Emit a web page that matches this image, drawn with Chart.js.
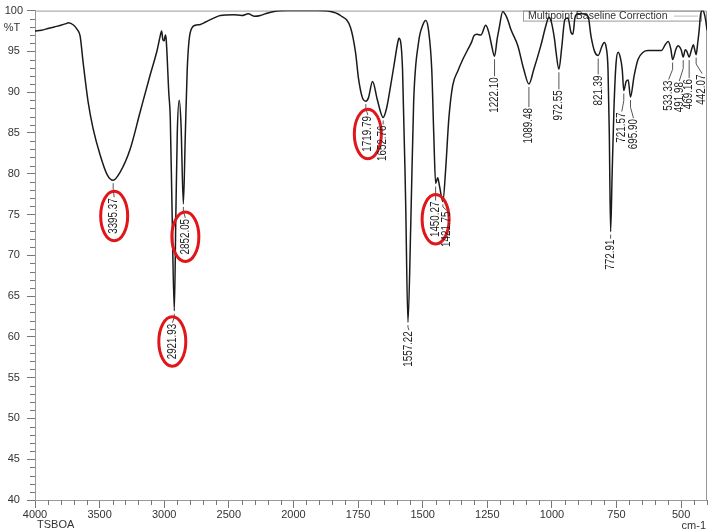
<!DOCTYPE html>
<html lang="en">
<head>
<meta charset="UTF-8">
<title>FTIR Spectrum</title>
<script src="https://cdn.jsdelivr.net/npm/chart.js"></script>
<style>
  body { margin: 0; background: #fff; }
</style>
</head>
<body>
<canvas id="irChart" width="709" height="530"></canvas>
<script>
// spectrum (cm-1 / %T)
const wavenumbers = [4000,3950,3900,3850,3800,3760,3744,3700,3674,3651,3628,3589,3550,3496,3442,3395,3341,3264,3186,3109,3054,3031,3020,3010,3000,2992,2985,2965,2953,2940,2922,2910,2899,2884,2870,2852,2837,2822,2799,2760,2721,2680,2643,2600,2566,2465,2400,2350,2300,2256,2220,2150,2047,1907,1857,1818,1779,1760,1748,1733,1720,1710,1694,1675,1653,1640,1624,1610,1597,1592,1578,1566,1557,1546,1535,1516,1500,1488,1477,1465,1457,1450,1442,1435,1422,1411,1399,1384,1364,1345,1326,1310,1302,1290,1275,1256,1244,1235,1222,1212,1205,1190,1180,1170,1159,1132,1109,1089,1070,1043,1023,1012,1004,990,984,973,962,950,938,926,919,911,900,880,860,849,835,821,808,798,790,783,778,773,767,760,752,744,735,728,722,713,705,696,682,667,647,628,600,577,560,550,540,533,520,512,500,492,484,478,469,460,453,446,442,436,430,425,418,412,405,400];
const transmittance = [97.5,97.6,97.8,98.0,98.2,98.4,98.5,98.2,97.7,96.9,93.7,88.8,85.5,82.3,79.9,79.2,80.2,83.0,87.6,92.1,95.2,96.9,97.5,96.4,96.3,97.0,96.5,90.0,86.7,76.0,63.2,75.0,85.0,89.0,86.0,76.3,84.7,92.8,97.3,98.2,98.3,98.6,98.9,99.2,99.4,99.5,99.4,99.6,99.3,99.4,99.6,99.9,100,100,99.9,99.4,97.9,94.9,91.6,89.3,88.9,89.3,91.3,89.0,86.9,88.0,90.8,93.5,96.0,96.6,92.8,76.6,61.8,74.0,88.8,96.1,98.2,98.8,97.5,92.8,84.7,78.8,79.5,78.5,76.6,80.6,86.7,90.8,92.6,94.0,95.2,96.2,96.9,97.1,97.0,98.2,97.3,96.0,94.4,96.5,97.7,99.9,99.5,98.8,97.7,95.7,92.8,91.0,92.8,95.7,98.2,99.2,98.8,96.5,94.9,92.8,95.5,98.9,99.1,97.3,97.1,99.1,99.6,99.6,99.3,96.9,95.0,94.5,95.5,96.1,95.5,92.8,85.0,72.9,80.0,88.0,93.5,94.9,94.2,92.8,90.2,91.3,91.5,89.4,92.0,94.0,94.9,95.1,95.1,95.1,95.9,96.2,95.3,94.0,95.3,95.7,95.2,94.3,95.2,95.0,94.3,95.2,95.8,95.0,94.6,96.0,97.7,99.5,100,99.8,98.8,97.6];

// picked peaks
const peakWavenumbers = [3395, 2922, 2852, 1720, 1653, 1557, 1450, 1422, 1222, 1089, 973, 821, 773, 722, 696, 533, 492, 469, 442];
const peakLabels = ['3395.37', '2921.93', '2852.05', '1719.79', '1652.76', '1557.22', '1450.27', '1421.75', '1222.10', '1089.48', '972.55', '821.39', '772.91', '721.57', '695.90', '533.33', '491.98', '469.16', '442.07'];
const circledPeaks = ['3395.37', '2921.93', '2852.05', '1719.79', '1450.27'];

const xTickValues = [4000, 3500, 3000, 2500, 2000, 1750, 1500, 1250, 1000, 750, 500];
const yTickValues = [40, 45, 50, 55, 60, 65, 70, 75, 80, 85, 90, 95, 100];

// axis is compressed by 2 above 2000 cm-1
function toAxis(w) { return w >= 2000 ? 4000 - w : 2000 + 2 * (2000 - w); }
function fromAxis(u) { return u <= 2000 ? 4000 - u : 2000 - (u - 2000) / 2; }

function valueAt(w) {
    for (let i = 0; i < wavenumbers.length - 1; i++) {
        const a = wavenumbers[i], b = wavenumbers[i + 1];
        if (w <= a && w >= b) {
            const t = (a - w) / (a - b);
            return transmittance[i] + t * (transmittance[i + 1] - transmittance[i]);
        }
    }
    return null;
}

const points = wavenumbers.map((w, i) => ({ x: toAxis(w), y: transmittance[i] }));

// label placement: [dx, distance below the peak]
const labelOffsets = [[1, 18], [-2, 13], [2, 15], [2, 15], [0, 8], [1, 9], [0, 18], [4, 10], [0, 21], [0, 24], [0, 21], [0, 20], [0, 8], [-2, 22], [3, 22], [-4, 21], [-4, 25], [0, 22], [6, 20]];

const tickFont = { family: 'Liberation Sans, Arial, sans-serif', size: 11 };

const spectrumDecor = {
    id: 'spectrumDecor',
    beforeDatasetsDraw(chart) {
        const ctx = chart.ctx;
        const a = chart.chartArea;
        ctx.save();
        // frame top and right
        ctx.strokeStyle = '#999';
        ctx.lineWidth = 1;
        ctx.beginPath();
        ctx.moveTo(a.left, a.top + 0.5);
        ctx.lineTo(a.right - 0.5, a.top + 0.5);
        ctx.lineTo(a.right - 0.5, a.bottom);
        ctx.stroke();
        // legend box
        ctx.strokeStyle = '#999';
        ctx.strokeRect(523.5, a.top + 0.5, 178, 10);
        ctx.fillStyle = '#333';
        ctx.font = '10.5px Liberation Sans, Arial, sans-serif';
        ctx.textBaseline = 'middle';
        ctx.textAlign = 'left';
        ctx.fillText(chart.data.datasets[0].label, 528, a.top + 6);
        ctx.strokeStyle = '#bbb';
        ctx.beginPath();
        ctx.moveTo(674, a.top + 5.5);
        ctx.lineTo(698, a.top + 5.5);
        ctx.stroke();
        ctx.restore();
    },
    afterDraw(chart) {
        const ctx = chart.ctx;
        const xs = chart.scales.x, ys = chart.scales.y;
        const a = chart.chartArea;
        ctx.save();
        // minor ticks
        ctx.strokeStyle = '#777';
        ctx.lineWidth = 1;
        ctx.beginPath();
        for (let w = 4000; w >= 400; w -= (w > 2000 ? 100 : 50)) {
            if (xTickValues.includes(w)) continue;
            const px = Math.round(xs.getPixelForValue(toAxis(w))) + 0.5;
            ctx.moveTo(px, a.bottom);
            ctx.lineTo(px, a.bottom + 5);
        }
        for (let v = 40; v <= 100; v++) {
            if (v % 5 === 0) continue;
            const py = Math.round(ys.getPixelForValue(v)) + 0.5;
            ctx.moveTo(a.left, py);
            ctx.lineTo(a.left - 5, py);
        }
        ctx.stroke();

        // axis captions
        ctx.fillStyle = '#333';
        ctx.font = '11px Liberation Sans, Arial, sans-serif';
        ctx.textBaseline = 'middle';
        ctx.textAlign = 'center';
        ctx.fillText('%T', 12, 28);
        ctx.textAlign = 'left';
        ctx.fillText('TSBOA', 37, 525);
        ctx.textAlign = 'right';
        ctx.fillText('cm-1', 706, 526);

        // peak labels
        peakWavenumbers.forEach((w, i) => {
            const px = xs.getPixelForValue(toAxis(w));
            const py = ys.getPixelForValue(valueAt(w));
            const [dx, dy] = labelOffsets[i];
            const lx = px + dx, top = py + dy;
            ctx.strokeStyle = '#555';
            ctx.lineWidth = 1;
            ctx.beginPath();
            ctx.moveTo(px, py + 3);
            if (dx !== 0) ctx.lineTo(px, py + 3 + (dy - 4) * 0.4);
            ctx.lineTo(lx, top - 1);
            ctx.stroke();

            ctx.save();
            ctx.translate(lx, top);
            ctx.rotate(-Math.PI / 2);
            ctx.scale(0.82, 1);
            ctx.font = '12px Liberation Sans, Arial, sans-serif';
            ctx.fillStyle = '#222';
            ctx.textAlign = 'right';
            ctx.textBaseline = 'middle';
            ctx.fillText(peakLabels[i], 0, 0);
            const len = ctx.measureText(peakLabels[i]).width * 0.82;
            ctx.restore();

            if (circledPeaks.includes(peakLabels[i])) {
                ctx.strokeStyle = '#e0161b';
                ctx.lineWidth = 3;
                ctx.beginPath();
                ctx.ellipse(lx, top + len / 2, 13.5, len / 2 + 7, 0, 0, Math.PI * 2);
                ctx.stroke();
            }
        });
        ctx.restore();
    }
};

const ctx = document.getElementById('irChart').getContext('2d');
new Chart(ctx, {
    type: 'line',
    data: {
        datasets: [{
            label: 'Multipoint Baseline Correction',
            data: points,
            borderColor: '#1a1a1a',
            borderWidth: 1.5,
            pointRadius: 0,
            cubicInterpolationMode: 'monotone',
            fill: false
        }]
    },
    options: {
        responsive: false,
        animation: false,
        layout: { padding: { top: 8, right: 2, left: 0, bottom: 0 } },
        plugins: { legend: { display: false }, tooltip: { enabled: false } },
        scales: {
            x: {
                type: 'linear',
                min: 0,
                max: toAxis(400),
                afterBuildTicks: s => { s.ticks = xTickValues.map(w => ({ value: toAxis(w) })); },
                afterFit: s => { s.height = 30; },
                ticks: {
                    autoSkip: false,
                    maxRotation: 0,
                    padding: 0,
                    color: '#333',
                    font: tickFont,
                    callback: v => String(Math.round(fromAxis(v)))
                },
                grid: { drawOnChartArea: false, tickLength: 8, color: '#777' },
                border: { color: '#999' }
            },
            y: {
                min: 40,
                max: 100,
                afterBuildTicks: s => { s.ticks = yTickValues.map(v => ({ value: v })); },
                afterFit: s => { s.width = 35; },
                ticks: {
                    crossAlign: 'center',
                    padding: 4,
                    color: '#333',
                    font: tickFont
                },
                grid: { drawOnChartArea: false, tickLength: 8, color: '#777' },
                border: { color: '#999' }
            }
        }
    },
    plugins: [spectrumDecor]
});
</script>
</body>
</html>
